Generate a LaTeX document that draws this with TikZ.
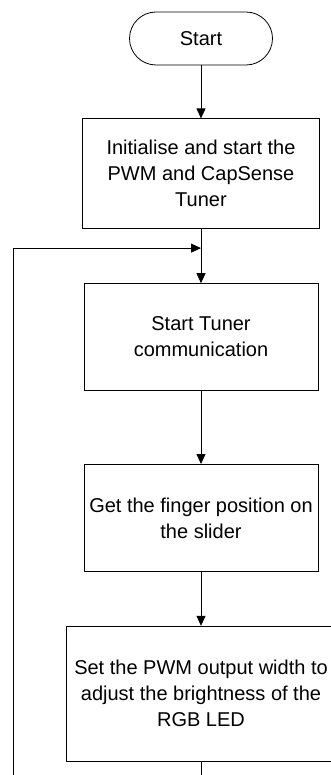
\documentclass[tikz,border=0pt]{standalone}
\usepackage{fontspec}
\setmainfont{Liberation Sans}
\usetikzlibrary{arrows.meta, positioning, calc}

\begin{document}
\begin{tikzpicture}[
    x=1pt, y=1pt,
    font=\fontsize{20}{26}\selectfont,
    term/.style={
        rectangle, rounded corners=26.5pt, draw=black, line width=0.8pt,
        minimum width=143pt, minimum height=53pt, inner sep=0pt
    },
    pbox/.style n args={2}{
        rectangle, draw=black, line width=0.8pt, align=center,
        minimum width=#1, minimum height=#2, inner sep=0pt
    },
    flow/.style={
        -{Triangle[length=10pt,width=9pt]}, line width=0.8pt, #1
    },
    flow/.default={black},
]

\useasboundingbox (0,0) rectangle (331,-775);
\clip (0,0) rectangle (331,-775);

% ============================================================
% Main column
% ============================================================

\node[term] (start) at (201,-38.5) {Start};

\node[pbox={237pt}{110pt}, below=53pt of start] (init)
    {Initialise and start the\\PWM and CapSense\\Tuner};

\node[pbox={234pt}{107pt}, below=54pt of init] (tuner)
    {Start Tuner\\communication};

\node[pbox={234pt}{107pt}, below=73pt of tuner] (finger)
    {Get the finger position on\\the slider};

\node[pbox={270pt}{135pt}, below=54pt of finger] (led)
    {Set the PWM output width to\\adjust the brightness of the\\RGB LED};

\draw[flow] (start.south) -- (init.north);
\draw[flow] (init.south) -- (tuner.north);
\draw[flow] (tuner.south) -- (finger.north);
\draw[flow] (finger.south) -- (led.north);

% ============================================================
% Loop back
% ============================================================

\coordinate (loopin) at ($(init.south)!0.35!(tuner.north)$);
\coordinate (loopleft) at (13,-820);

\draw[flow] (led.south) |- (loopleft) |- (loopin);

\end{tikzpicture}
\end{document}
